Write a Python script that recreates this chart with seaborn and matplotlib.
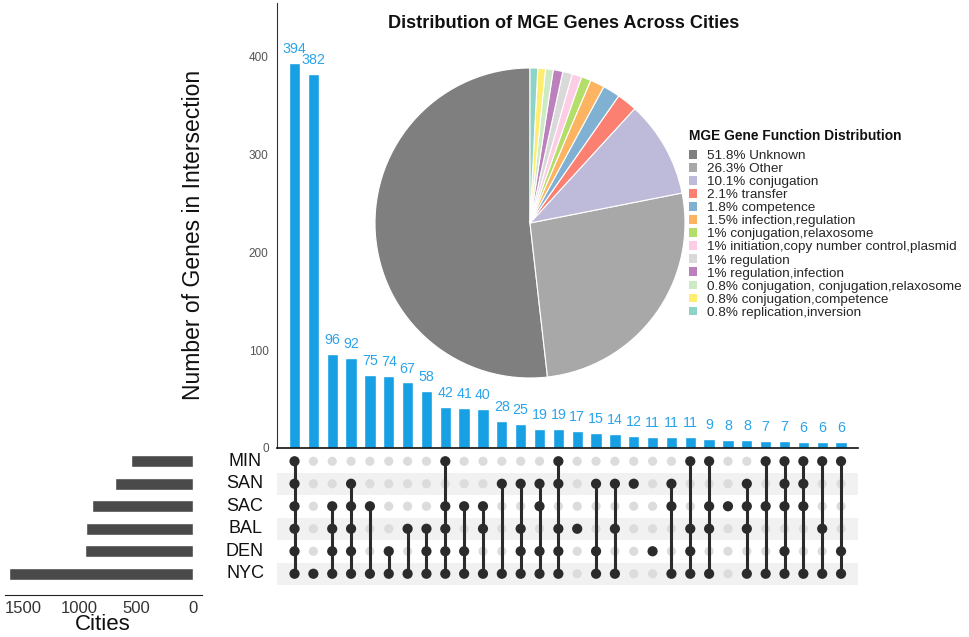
import numpy as np
import pandas as pd
import matplotlib
matplotlib.use("Agg")
import matplotlib.pyplot as plt
from matplotlib.patches import Patch
from matplotlib.transforms import blended_transform_factory
import seaborn as sns

# ---------------- data ----------------
cities = ["MIN", "SAN", "SAC", "BAL", "DEN", "NYC"]
set_sizes = [550, 690, 895, 945, 955, 1625]

intersection_counts = [394, 382, 96, 92, 75, 74, 67, 58, 42, 41, 40, 28, 25, 19, 19,
                       17, 15, 14, 12, 11, 11, 11, 9, 8, 8, 7, 7, 6, 6, 6]
intersection_members = [
    ["MIN", "SAN", "SAC", "BAL", "DEN", "NYC"],
    ["NYC"],
    ["SAC", "BAL", "DEN", "NYC"],
    ["SAN", "SAC", "BAL", "DEN", "NYC"],
    ["SAC", "NYC"],
    ["DEN", "NYC"],
    ["BAL", "NYC"],
    ["BAL", "DEN", "NYC"],
    ["MIN", "SAC", "BAL", "DEN", "NYC"],
    ["SAC", "DEN", "NYC"],
    ["SAC", "BAL", "NYC"],
    ["SAN", "NYC"],
    ["SAN", "BAL", "DEN", "NYC"],
    ["SAN", "SAC", "DEN", "NYC"],
    ["MIN", "SAN", "BAL", "DEN", "NYC"],
    ["BAL"],
    ["SAN", "DEN", "NYC"],
    ["SAN", "BAL", "NYC"],
    ["SAN"],
    ["DEN"],
    ["SAN", "SAC", "NYC"],
    ["MIN", "BAL", "DEN", "NYC"],
    ["MIN", "SAC", "BAL", "NYC"],
    ["SAC"],
    ["SAN", "SAC", "BAL", "NYC"],
    ["MIN", "SAC", "NYC"],
    ["MIN", "SAN", "SAC", "DEN", "NYC"],
    ["MIN", "SAN", "SAC", "NYC"],
    ["MIN", "BAL", "NYC"],
    ["MIN", "DEN", "NYC"],
]

pie_labels = ["Unknown", "Other", "conjugation", "transfer", "competence",
              "infection,regulation", "conjugation,relaxosome",
              "initiation,copy number control,plasmid", "regulation",
              "regulation,infection", "conjugation, conjugation,relaxosome",
              "conjugation,competence", "replication,inversion"]
pie_pct = [51.8, 26.3, 10.1, 2.1, 1.8, 1.5, 1, 1, 1, 1, 0.8, 0.8, 0.8]
pie_colors = ["#7f7f7f", "#a8a8a8", "#bebada", "#fb8072", "#80b1d3", "#fdb462",
              "#b3de69", "#fccde5", "#d9d9d9", "#bc80bd", "#ccebc5", "#ffed6f",
              "#8dd3c7"]

# ---------------- style ----------------
sns.set_style("white")
plt.rcParams["font.family"] = ["Liberation Sans", "DejaVu Sans"]

W, H = 969, 637
fig = plt.figure(figsize=(W / 100, H / 100), dpi=100)


def ax_px(l, t, r, b):
    return fig.add_axes([l / W, 1 - b / H, (r - l) / W, (b - t) / H])


BAR_COLOR = "#17a0e4"
LABEL_COLOR = "#2ba4ea"
DARK = "#2b2b2b"

n = len(intersection_counts)
xlim = (-0.93, 29.9)

# ---------------- intersection bars ----------------
ax_bar = ax_px(277, 3, 858, 448)
bar_df = pd.DataFrame({"idx": list(range(n)), "count": intersection_counts})
sns.barplot(data=bar_df, x="idx", y="count", color=BAR_COLOR, width=0.6,
            saturation=1, ax=ax_bar)
ax_bar.bar_label(ax_bar.containers[0], labels=[str(v) for v in intersection_counts],
                 padding=5, color=LABEL_COLOR, fontsize=10.3)
ax_bar.set_xlim(*xlim)
ax_bar.set_ylim(0, 455)
ax_bar.set_yticks([0, 100, 200, 300, 400])
ax_bar.tick_params(axis="y", labelsize=8.5, labelcolor="#555555", length=4,
                   width=1, color="#333333", direction="out", pad=2)
ax_bar.set_xticks([])
ax_bar.set_xlabel("")
ax_bar.set_ylabel("")
for s in ["top", "right"]:
    ax_bar.spines[s].set_visible(False)
ax_bar.spines["left"].set_color("#333333")
ax_bar.spines["bottom"].set_color("#111111")
ax_bar.spines["bottom"].set_linewidth(1.2)
fig.text(194 / W, 1 - 235 / H, "Number of Genes in Intersection", rotation=90,
         ha="center", va="center", fontsize=16.5, color="#111111")

# ---------------- matrix ----------------
ax_mat = ax_px(277, 450, 858, 585)
ax_mat.set_xlim(*xlim)
ax_mat.set_ylim(len(cities) - 0.5, -0.5)
for i, c in enumerate(cities):
    if i % 2 == 1:
        ax_mat.axhspan(i - 0.5, i + 0.5, color="#f1f1f1", zorder=0, lw=0)

rows = []
for j, members in enumerate(intersection_members):
    for i, c in enumerate(cities):
        rows.append({"col": j, "row": i, "member": c in members})
mat_df = pd.DataFrame(rows)
sns.scatterplot(data=mat_df[~mat_df["member"]], x="col", y="row", color="#dcdcdc",
                s=44, edgecolor="none", ax=ax_mat, zorder=2, legend=False)
for j, members in enumerate(intersection_members):
    ids = [cities.index(c) for c in members]
    if len(ids) > 1:
        ax_mat.vlines(j, min(ids), max(ids), color=DARK, lw=2.2, zorder=3)
sns.scatterplot(data=mat_df[mat_df["member"]], x="col", y="row", color=DARK,
                s=54, edgecolor="none", ax=ax_mat, zorder=4, legend=False)
ax_mat.set_xlim(*xlim)
ax_mat.set_ylim(len(cities) - 0.5, -0.5)
ax_mat.axis("off")

trans = blended_transform_factory(fig.transFigure, ax_mat.transData)
for i, c in enumerate(cities):
    ax_mat.text(245 / W, i, c, transform=trans, ha="center", va="center",
                fontsize=13, color="#111111")

# ---------------- set sizes ----------------
ax_set = ax_px(5, 450, 202, 594.5)
set_df = pd.DataFrame({"city": cities, "size": set_sizes})
sns.barplot(data=set_df, y="city", x="size", orient="h", color="#4a4a4a",
            saturation=1, width=0.55, ax=ax_set)
ax_set.set_xlim(1659, -79)
ax_set.set_ylim(len(cities) - 1 + 0.92, -0.5)
ax_set.set_xticks([0, 500, 1000, 1500])
ax_set.set_yticks([])
ax_set.set_ylabel("")
ax_set.set_xlabel("")
ax_set.tick_params(axis="x", labelsize=12, labelcolor="#333333", length=3,
                   color="#333333", direction="out", pad=2)
for s in ["top", "right", "left"]:
    ax_set.spines[s].set_visible(False)
ax_set.spines["bottom"].set_color("#222222")
fig.text(103 / W, 1 - 625 / H, "Cities", ha="center", va="center", fontsize=16,
         color="#111111")

# ---------------- pie ----------------
ax_pie = ax_px(375, 68, 685, 378)
ax_pie.pie(pie_pct, colors=pie_colors, startangle=90, counterclock=True,
           wedgeprops=dict(edgecolor="white", linewidth=0.8))
ax_pie.set_xlim(-1.0, 1.0)
ax_pie.set_ylim(-1.0, 1.0)
ax_pie.set_aspect("equal")

fig.text(563.5 / W, 1 - 23 / H, "Distribution of MGE Genes Across Cities",
         ha="center", va="center", fontsize=13.1, fontweight="bold",
         color="#111111")

# legend (title drawn as separate text for exact spacing)
fig.text(689 / W, 1 - 136.5 / H, "MGE Gene Function Distribution",
         ha="left", va="center", fontsize=9.9, fontweight="bold",
         color="#111111")
handles = [Patch(facecolor=c, edgecolor="none") for c in pie_colors]
labels = [f"{p:g}% {l}" for p, l in zip(pie_pct, pie_labels)]
leg = fig.legend(handles, labels, loc="upper left",
                 bbox_to_anchor=(689 / W, 1 - 150 / H), frameon=False,
                 fontsize=9.7, handlelength=0.62, handleheight=0.62,
                 handletextpad=0.75, labelspacing=0.07, borderpad=0,
                 borderaxespad=0)

fig.savefig("out.png", dpi=100)
